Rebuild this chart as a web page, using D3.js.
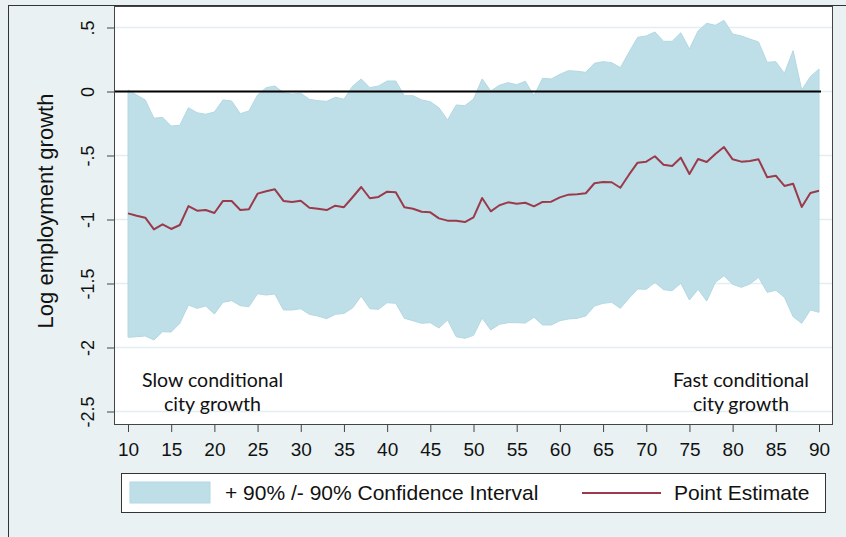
<!DOCTYPE html>
<html>
<head>
<meta charset="utf-8">
<script src="https://cdn.jsdelivr.net/npm/d3@7"></script>
<style>
  body { margin: 0; background: #e9f1f3; }
  svg { display: block; }
</style>
</head>
<body>
<div id="viz"></div>
<script>
// data, x = 10..90
var xStart = 10;
var pointEst = [
  -0.952, -0.970, -0.986, -1.077, -1.038, -1.074, -1.043, -0.895, -0.931, -0.926,
  -0.949, -0.855, -0.855, -0.926, -0.920, -0.798, -0.780, -0.764, -0.855, -0.863,
  -0.853, -0.908, -0.916, -0.926, -0.892, -0.904, -0.826, -0.746, -0.834, -0.824,
  -0.783, -0.788, -0.905, -0.916, -0.939, -0.944, -0.991, -1.009, -1.009, -1.020,
  -0.983, -0.832, -0.936, -0.889, -0.866, -0.877, -0.869, -0.897, -0.863, -0.861,
  -0.827, -0.806, -0.803, -0.795, -0.717, -0.707, -0.709, -0.752, -0.650, -0.556,
  -0.548, -0.506, -0.572, -0.582, -0.517, -0.645, -0.527, -0.551, -0.488, -0.434,
  -0.530, -0.548, -0.543, -0.530, -0.670, -0.658, -0.738, -0.720, -0.902, -0.793,
  -0.775];
var upperCI = [
  0.012, -0.027, -0.066, -0.209, -0.202, -0.270, -0.264, -0.127, -0.166, -0.178,
  -0.160, -0.066, -0.074, -0.173, -0.152, -0.027, 0.030, 0.043, -0.009, -0.020,
  -0.014, -0.061, -0.072, -0.077, -0.045, -0.060, 0.041, 0.098, 0.030, 0.043,
  0.082, 0.082, -0.033, -0.033, -0.066, -0.080, -0.127, -0.223, -0.105, -0.111,
  -0.059, 0.098, 0.004, 0.048, 0.069, 0.053, 0.080, -0.033, 0.103, 0.098,
  0.134, 0.163, 0.158, 0.150, 0.220, 0.233, 0.225, 0.186, 0.306, 0.423,
  0.434, 0.465, 0.392, 0.392, 0.459, 0.332, 0.473, 0.533, 0.517, 0.556,
  0.449, 0.434, 0.410, 0.387, 0.228, 0.233, 0.142, 0.319, 0.012, 0.116,
  0.176];
var lowerCI = [
  -1.920, -1.916, -1.910, -1.941, -1.877, -1.879, -1.811, -1.668, -1.694, -1.676,
  -1.738, -1.647, -1.634, -1.673, -1.681, -1.580, -1.590, -1.582, -1.707, -1.707,
  -1.697, -1.741, -1.754, -1.775, -1.741, -1.734, -1.691, -1.598, -1.697, -1.702,
  -1.650, -1.655, -1.772, -1.791, -1.811, -1.806, -1.848, -1.785, -1.916, -1.928,
  -1.905, -1.770, -1.863, -1.819, -1.806, -1.806, -1.809, -1.764, -1.824, -1.824,
  -1.791, -1.777, -1.772, -1.754, -1.676, -1.655, -1.647, -1.694, -1.616, -1.543,
  -1.545, -1.491, -1.548, -1.556, -1.498, -1.629, -1.545, -1.637, -1.491, -1.439,
  -1.506, -1.530, -1.504, -1.452, -1.569, -1.553, -1.608, -1.759, -1.811, -1.707,
  -1.725];

var xTicks = [10, 15, 20, 25, 30, 35, 40, 45, 50, 55, 60, 65, 70, 75, 80, 85, 90];
var yTicks = [0.5, 0, -0.5, -1, -1.5, -2, -2.5];
var yTitle = "Log employment growth";
var slowLabel = ["Slow conditional", "city growth"];
var fastLabel = ["Fast conditional", "city growth"];
var legendLabels = ["+ 90% /- 90% Confidence Interval", "Point Estimate"];

// layout
var W = 846, H = 537;
var panel = {left: 114, top: 6, right: 832, bottom: 424};
var bandColor = "#bedfe8";
var lineColor = "#9b3a4a";

var rows = pointEst.map(function(d, i) {
  return {x: xStart + i, est: d, hi: upperCI[i], lo: lowerCI[i]};
});

var x = d3.scaleLinear().domain([10, 90]).range([128, 819]);
var y = d3.scaleLinear().domain([0.5, -2.5]).range([27.5, 411.5]);

var svg = d3.select("#viz").append("svg")
  .attr("width", W)
  .attr("height", H)
  .style("font-family", "Arial, 'Liberation Sans', sans-serif");

// outer frame
svg.append("rect")
  .attr("x", 8.5).attr("y", 5.5)
  .attr("width", W).attr("height", H)
  .attr("fill", "#e9f1f3")
  .attr("stroke", "#333").attr("stroke-width", 1);

// plot panel
svg.append("rect")
  .attr("x", panel.left).attr("y", panel.top)
  .attr("width", panel.right - panel.left)
  .attr("height", panel.bottom - panel.top)
  .attr("fill", "#fff");

// gridlines
svg.append("g").selectAll("line")
  .data(yTicks)
  .enter().append("line")
  .attr("x1", panel.left).attr("x2", panel.right)
  .attr("y1", function(d) { return y(d); })
  .attr("y2", function(d) { return y(d); })
  .attr("stroke", "#e4edf0").attr("stroke-width", 1.5);

// confidence band
var area = d3.area()
  .x(function(d) { return x(d.x); })
  .y0(function(d) { return y(d.lo); })
  .y1(function(d) { return y(d.hi); });

svg.append("path")
  .datum(rows)
  .attr("d", area)
  .attr("fill", bandColor)
  .attr("stroke", "#b3d8e3").attr("stroke-width", 1);

// zero line
svg.append("line")
  .attr("x1", panel.left).attr("x2", x(90) + 2)
  .attr("y1", y(0)).attr("y2", y(0))
  .attr("stroke", "#000").attr("stroke-width", 2);

// point estimate
var line = d3.line()
  .x(function(d) { return x(d.x); })
  .y(function(d) { return y(d.est); });

svg.append("path")
  .datum(rows)
  .attr("d", line)
  .attr("fill", "none")
  .attr("stroke", lineColor).attr("stroke-width", 2)
  .attr("stroke-linejoin", "round");

// panel border
svg.append("rect")
  .attr("x", panel.left + 0.5).attr("y", panel.top + 0.5)
  .attr("width", panel.right - panel.left)
  .attr("height", panel.bottom - panel.top)
  .attr("fill", "none")
  .attr("stroke", "#444").attr("stroke-width", 1);

// y axis
var yAxis = svg.append("g")
  .attr("transform", "translate(" + panel.left + ",0)")
  .call(d3.axisLeft(y)
    .tickValues(yTicks)
    .tickSize(7)
    .tickFormat(function(d) {
      return d === 0 ? "0" : String(d).replace("0.", ".");
    }));
yAxis.select(".domain").remove();
yAxis.selectAll(".tick line").attr("stroke", "#444");
yAxis.selectAll(".tick text")
  .attr("transform", "rotate(-90)")
  .attr("x", 0).attr("y", -20).attr("dy", 0)
  .attr("text-anchor", "middle")
  .attr("font-size", "18px")
  .attr("fill", "#111");

// x axis
var xAxis = svg.append("g")
  .attr("transform", "translate(0," + panel.bottom + ")")
  .call(d3.axisBottom(x)
    .tickValues(xTicks)
    .tickSize(8)
    .tickPadding(10.5));
xAxis.select(".domain").remove();
xAxis.selectAll(".tick line").attr("stroke", "#444");
xAxis.selectAll(".tick text")
  .attr("font-size", "19px")
  .attr("fill", "#111");

// y title
svg.append("text")
  .attr("transform", "translate(53,211) rotate(-90)")
  .attr("text-anchor", "middle")
  .attr("font-size", "22px")
  .attr("fill", "#111")
  .text(yTitle);

// annotations
function note(lines, cx, widths) {
  svg.append("g").selectAll("text")
    .data(lines)
    .enter().append("text")
    .attr("x", cx)
    .attr("y", function(d, i) { return 387 + i * 24; })
    .attr("text-anchor", "middle")
    .attr("font-family", "Lato, 'Open Sans', sans-serif")
    .attr("font-size", "19px")
    .attr("fill", "#111")
    .attr("textLength", function(d, i) { return widths[i]; })
    .attr("lengthAdjust", "spacingAndGlyphs")
    .text(function(d) { return d; });
}
note(slowLabel, 212.5, [141, 97]);
note(fastLabel, 741, [136, 96]);

// legend
var legend = svg.append("g");
legend.append("rect")
  .attr("x", 121.5).attr("y", 473.5)
  .attr("width", 704).attr("height", 39)
  .attr("fill", "#fff")
  .attr("stroke", "#333").attr("stroke-width", 1);
legend.append("rect")
  .attr("x", 130).attr("y", 482)
  .attr("width", 80).attr("height", 21)
  .attr("fill", bandColor)
  .attr("stroke", "#b3d8e3");
legend.append("text")
  .attr("x", 225).attr("y", 500)
  .attr("font-size", "21px")
  .attr("fill", "#111")
  .text(legendLabels[0]);
legend.append("line")
  .attr("x1", 582).attr("x2", 661)
  .attr("y1", 493).attr("y2", 493)
  .attr("stroke", lineColor).attr("stroke-width", 2);
legend.append("text")
  .attr("x", 674).attr("y", 500)
  .attr("font-size", "21px")
  .attr("fill", "#111")
  .text(legendLabels[1]);
</script>
</body>
</html>
